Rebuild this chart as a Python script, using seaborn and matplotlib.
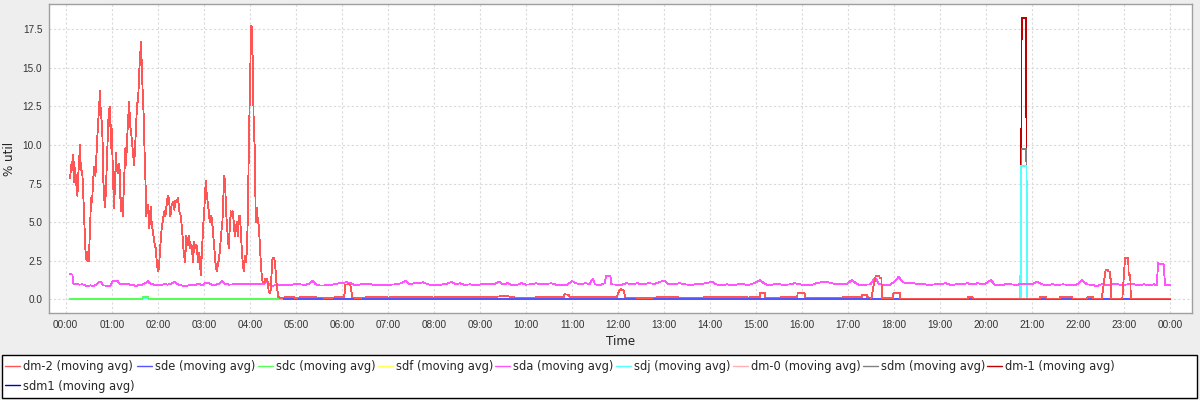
import numpy as np
import pandas as pd
import matplotlib
matplotlib.use("Agg")
import matplotlib.pyplot as plt
import seaborn as sns
from matplotlib.lines import Line2D
from matplotlib.patches import Rectangle
from matplotlib.ticker import FixedLocator, FormatStrFormatter

# legend order (JFreeChart draws series 0 on top)
SERIES = ["dm-2", "sde", "sdc", "sdf", "sda", "sdj", "dm-0", "sdm", "dm-1", "sdm1"]
COLORS = ["#ff5555", "#5555ff", "#55ff55", "#ffff55", "#ff55ff",
          "#55ffff", "#ffafaf", "#808080", "#c00000", "#0000c0"]

TICK_MIN = [0, 60, 120, 180, 240, 300, 360, 420, 480, 540, 600, 660, 720,
            780, 840, 900, 960, 1020, 1080, 1140, 1200, 1260, 1320, 1380, 1440]
TICK_LABELS = ["00:00", "01:00", "02:00", "03:00", "04:00", "05:00", "06:00",
               "07:00", "08:00", "09:00", "10:00", "11:00", "12:00", "13:00",
               "14:00", "15:00", "16:00", "17:00", "18:00", "19:00", "20:00",
               "21:00", "22:00", "23:00", "00:00"]
Y_TICKS = [0.0, 2.5, 5.0, 7.5, 10.0, 12.5, 15.0, 17.5]

# dm-2 : minutes after midnight / % util
DM2_MIN = [5.6, 7.8, 9.1, 10.0, 10.9, 12.2, 13.5, 15.2, 16.5, 18.7, 19.6, 21.3, 22.2, 23.9,
           25.6, 26.5, 27.4, 28.3, 30.0, 31.7, 33.0, 34.3, 36.1, 37.4, 38.7, 39.6, 41.3,
           43.0, 44.8, 45.6, 47.4, 48.3, 49.1, 50.9, 52.2, 53.5, 54.8, 56.1, 57.4, 58.3,
           58.7, 59.6, 60.9, 62.2, 63.0, 64.3, 65.6, 66.5, 67.8, 69.1, 70.4, 71.7, 73.0,
           74.3, 75.2, 76.5, 77.8, 78.7, 80.0, 81.3, 82.6, 83.9, 85.6, 86.9, 89.1, 90.4,
           91.7, 93.0, 94.3, 95.6, 96.5, 98.1, 99.0, 100.3, 101.6, 102.9, 104.2, 105.1,
           106.4, 107.7, 109.0, 110.7, 112.0, 113.8, 115.5, 117.3, 119.0, 120.7, 122.0,
           123.3, 125.1, 126.8, 128.6, 129.9, 131.2, 132.9, 134.6, 136.4, 138.1, 139.9,
           141.6, 142.9, 144.6, 146.4, 148.1, 149.9, 151.6, 153.3, 155.5, 157.3, 159.0,
           160.7, 162.5, 164.2, 166.0, 167.3, 169.0, 170.7, 172.5, 174.2, 176.0, 177.7,
           179.0, 180.7, 182.5, 183.8, 186.0, 187.7, 189.9, 191.6, 193.3, 195.1, 196.8,
           198.1, 199.8, 201.1, 202.9, 204.2, 205.5, 206.8, 208.1, 209.4, 210.7, 212.5,
           213.8, 215.1, 216.4, 217.7, 219.0, 220.3, 221.6, 222.9, 224.2, 225.5, 226.8,
           228.1, 229.4, 230.7, 232.0, 233.3, 234.6, 235.9, 237.2, 238.5, 239.8, 241.1,
           242.0, 242.9, 243.8, 245.1, 246.4, 247.7, 249.0, 250.3, 251.6, 252.9, 254.2,
           255.5, 256.8, 259.0, 260.3, 262.0, 263.3, 264.6, 266.8, 268.1, 269.4, 270.7,
           272.0, 273.3, 274.6, 275.9, 277.2, 279.4,
           285, 292, 300, 310, 330, 345, 355, 363, 364.5, 369, 371, 373.5, 380, 400, 420,
           450, 480, 510, 540, 562, 568, 576, 585, 610, 640, 649, 650, 656, 657, 680, 700,
           718, 721, 723, 727, 729.5, 760, 780, 800, 830, 860, 890, 904.5, 905, 911.5, 912,
           930, 950, 953.5, 954, 963, 963.5, 990, 1010, 1037.5, 1038, 1044, 1044.5, 1050.5,
           1053, 1056, 1060.5, 1061, 1063.3, 1063.8, 1078.3, 1078.8, 1087.5, 1088, 1120,
           1175.5, 1176, 1182, 1182.5, 1269.5, 1270, 1278, 1278.5, 1295.5, 1296, 1312,
           1312.5, 1331.5, 1332, 1339, 1339.5, 1350.4, 1355.5, 1358, 1359, 1361, 1361.4,
           1362, 1362.6, 1377.3, 1380.8, 1385, 1385.5, 1387.7, 1388.2, 1440]
DM2_VAL = [7.86, 8.9, 8.4, 9.37, 7.6, 8.5, 7.6, 6.7, 8.2, 10.0, 8.4, 8.3, 7.7, 5.4,
           3.3, 2.6, 3.1, 2.5, 2.5, 4.6, 6.6, 6.3, 8.0, 8.6, 8.0, 8.9, 10.6,
           12.1, 13.5, 12.1, 11.3, 9.65, 7.6, 6.0, 6.8, 8.7, 10.6, 12.2, 12.5, 11.1,
           9.8, 11.3, 9.3, 7.0, 5.9, 7.6, 9.5, 8.5, 8.2, 8.8, 8.3, 5.7, 6.6,
           5.4, 6.6, 8.2, 9.8, 8.7, 10.4, 11.6, 12.8, 11.3, 10.6, 9.9, 8.7, 9.8,
           11.3, 12.7, 12.8, 14.5, 15.4, 16.7, 15.4, 13.4, 11.9, 9.3, 7.2, 5.4,
           6.0, 6.1, 4.6, 6.0, 5.0, 4.3, 3.7, 3.3, 2.2, 1.8, 2.4,
           3.5, 4.6, 5.2, 5.7, 5.4, 6.0, 6.7, 6.5, 5.4, 6.1, 6.3,
           5.8, 6.4, 6.3, 6.6, 5.7, 5.4, 4.6, 3.3, 2.4, 4.1, 3.5,
           4.1, 3.3, 3.5, 2.4, 3.7, 3.3, 3.5, 2.4, 3.0, 1.55, 3.3,
           4.6, 5.9, 7.7, 6.8, 5.9, 5.0, 5.4, 4.6, 3.5, 2.4, 1.8,
           2.2, 2.6, 3.3, 4.4, 5.0, 6.7, 8.0, 7.0, 5.4, 4.4, 3.3,
           4.6, 5.7, 5.4, 5.7, 5.0, 4.1, 4.6, 5.0, 4.1, 5.4, 5.4,
           4.6, 3.3, 2.4, 1.8, 2.8, 2.4, 3.0, 5.0, 9.3, 13.0, 16.2,
           17.75, 17.5, 15.2, 11.1, 9.8, 5.0, 5.9, 5.2, 4.8, 3.7, 2.4,
           1.55, 1.1, 1.1, 1.35, 1.35, 1.1, 0.47, 0.37, 1.55, 2.6, 2.7,
           2.6, 2.0, 1.1, 0.58, 0.15, 0.09,
           0.12, 0.17, 0.1, 0.14, 0.12, 0.1, 0.14, 0.14, 0.95, 0.97, 0.93, 0.12, 0.1, 0.14, 0.12,
           0.14, 0.12, 0.15, 0.13, 0.17, 0.2, 0.2, 0.12, 0.12, 0.14, 0.14, 0.32, 0.3, 0.14, 0.12, 0.15,
           0.12, 0.5, 0.65, 0.6, 0.12, 0.1, 0.14, 0.12, 0.12, 0.14, 0.12, 0.13, 0.39, 0.39, 0.12,
           0.12, 0.14, 0.14, 0.39, 0.39, 0.12, 0.12, 0.12, 0.13, 0.28, 0.28, 0.13, 0.1,
           0.9, 1.53, 1.53, 1.36, 1.36, 0.1, 0.1, 0.39, 0.39, 0.05, 0.05,
           0.05, 0.15, 0.15, 0.05, 0.05, 0.15, 0.15, 0.05, 0.05, 0.15, 0.15,
           0.05, 0.05, 0.15, 0.15, 0.05, 0.05, 1.9, 1.9, 1.8, 1.8, 1.36,
           1.36, 0.05, 0.05, 2.7, 2.7, 1.58, 1.58, 0.05, 0.05]

# sde follows dm-2 during the busy hours, then sits just above zero
SDE_TAIL_MIN = [285, 1440]
SDE_TAIL_VAL = [0.04, 0.04]

# sdm follows dm-2 except for the spike at ~20:46
SDM_SPIKE_MIN = [1245.2, 1245.8, 1252.2, 1252.8]
SDM_SPIKE_VAL = [0.05, 9.72, 9.72, 0.05]

SDC_MIN = [5.6, 100.0, 100.6, 107.4, 108.0, 1440]
SDC_VAL = [0, 0, 0.15, 0.15, 0, 0]

SDJ_MIN = [5.6, 1245.0, 1245.6, 1252.4, 1253.0, 1440]
SDJ_VAL = [0, 0, 8.64, 8.64, 0, 0]

DM0_MIN = [5.6, 1244.3, 1244.8, 1245.3, 1440]
DM0_VAL = [0, 0, 6.1, 0, 0]

DM1_MIN = [5.6, 1245.3, 1246.0, 1252.0, 1252.7, 1440]
DM1_VAL = [0, 0, 18.21, 18.21, 0, 0]

ZERO_MIN = [5.6, 1440]
ZERO_VAL = [0, 0]

SDA_MIN = [5.6, 8.7, 10, 14, 18, 22, 27, 32, 36, 40, 43, 46, 49, 54, 58, 61, 64, 68, 71,
           76, 80, 84, 88, 92, 96, 100, 104, 107, 110, 115, 120, 125, 129, 133, 137, 142,
           145, 149, 155, 160, 165, 170, 174, 178, 182, 186, 190, 195, 200, 204, 208, 213,
           220, 227, 233, 240, 247, 253, 258, 262, 266, 270, 274, 280, 286, 292, 298, 305,
           312, 317, 322, 326, 332, 338, 346, 352, 358, 366, 372, 378, 385, 392, 398, 404,
           410, 417, 424, 431, 437, 443, 448, 454, 460, 466, 472, 479, 486, 492, 498, 503,
           508, 514, 520, 527, 534, 541, 547, 552, 558, 565, 570, 576, 582, 588, 594, 600,
           607, 613, 620, 627, 633, 640, 647, 653, 660, 665, 671, 677, 683, 687, 690, 696,
           700, 703, 704, 710, 711, 717, 724, 731, 738, 745, 752, 760, 768, 775, 781, 786,
           792, 800, 807, 814, 821, 828, 835, 842, 848, 855, 862, 869, 876, 883, 890, 897,
           901, 905, 910, 916, 923, 930, 937, 944, 950, 957, 964, 971, 978, 985, 992, 998,
           1005, 1012, 1018, 1025, 1030, 1036, 1043, 1049, 1055, 1060, 1066, 1073, 1080,
           1086, 1091, 1098, 1105, 1112, 1119, 1126, 1133, 1140, 1147, 1154, 1161, 1168,
           1175, 1182, 1189, 1196, 1202, 1206, 1211, 1218, 1225, 1232, 1239, 1246, 1253,
           1260, 1266, 1272, 1279, 1286, 1293, 1300, 1307, 1314, 1320, 1325, 1331, 1338,
           1344, 1350, 1357, 1364, 1371, 1378, 1385, 1392, 1399, 1406, 1412, 1418, 1422,
           1424, 1431, 1433, 1436, 1440]
SDA_VAL = [1.62, 1.6, 1.0, 1.0, 0.95, 0.97, 0.86, 0.9, 0.86, 0.97, 1.12, 1.1, 0.9, 0.88, 0.86,
           1.19, 1.2, 1.17, 0.97, 1.0, 1.0, 0.95, 0.92, 0.86, 0.95, 0.95, 1.05, 1.17, 1.02,
           0.95, 0.92, 0.92, 1.0, 0.95, 1.0, 1.12, 1.02, 0.92, 0.86, 0.9, 0.92, 0.95, 1.0,
           0.92, 1.06, 1.05, 0.95, 0.92, 1.02, 1.17, 1.0, 0.95, 0.97, 1.0, 0.97, 1.0, 0.97,
           0.97, 1.0, 1.12, 0.95, 0.86, 0.95, 0.95, 0.93, 0.92, 0.97, 0.97, 0.93, 1.0, 1.19,
           0.97, 0.89, 0.9, 0.93, 1.0, 1.04, 1.1, 1.04, 0.9, 0.97, 1.02, 0.97, 0.9, 0.93,
           0.9, 0.95, 0.97, 1.04, 1.19, 0.97, 1.04, 1.06, 1.1, 0.97, 0.9, 0.93, 0.97, 1.02,
           1.14, 0.97, 1.04, 0.93, 0.97, 0.9, 0.97, 1.02, 0.97, 0.97, 1.14, 0.97, 1.04, 0.9,
           0.93, 1.04, 0.95, 0.97, 1.04, 0.97, 1.0, 1.04, 0.93, 0.9, 0.92, 1.19, 1.04, 0.97,
           1.04, 1.0, 1.32, 0.97, 0.9, 1.0, 1.04, 1.53, 1.53, 0.97, 0.95, 0.93, 1.04, 0.97,
           1.04, 0.97, 1.04, 1.0, 1.14, 1.19, 0.97, 0.97, 1.04, 0.97, 0.93, 0.97, 1.0, 1.04,
           1.14, 0.97, 0.9, 0.97, 0.9, 0.97, 0.97, 0.93, 1.04, 1.14, 1.25, 1.04, 0.9, 0.97,
           0.97, 0.93, 0.97, 1.04, 0.97, 0.9, 0.9, 1.04, 1.1, 1.14, 1.04, 0.97, 0.97, 1.0,
           1.25, 1.04, 0.9, 0.95, 0.97, 1.4, 1.0, 0.93, 0.9, 1.14, 1.47, 1.1, 1.04, 1.04,
           0.97, 0.97, 0.93, 0.97, 0.97, 1.04, 0.93, 0.97, 0.97, 1.04, 0.97, 1.04, 0.97,
           1.1, 1.25, 0.93, 0.9, 0.97, 0.97, 0.93, 1.0, 0.97, 1.0, 1.14, 0.97, 0.93, 0.97,
           0.93, 0.97, 0.93, 0.9, 1.0, 1.25, 0.97, 0.93, 0.86, 0.97, 0.93, 0.97, 0.97, 0.93,
           0.97, 0.97, 0.93, 0.97, 0.9, 0.97, 0.93, 2.33, 2.27, 0.93, 0.9, 0.95]


def merge(t_a, v_a, t_b, v_b):
    t = np.concatenate([t_a, t_b])
    v = np.concatenate([v_a, v_b])
    order = np.argsort(t, kind="stable")
    return t[order], v[order]


def main():
    dm2_t = np.array(DM2_MIN, dtype=float)
    dm2_v = np.array(DM2_VAL, dtype=float)
    busy = dm2_t <= 280
    sde_t, sde_v = merge(dm2_t[busy], dm2_v[busy], np.array(SDE_TAIL_MIN, float), np.array(SDE_TAIL_VAL, float))
    sdm_t, sdm_v = merge(dm2_t, dm2_v, np.array(SDM_SPIKE_MIN, float), np.array(SDM_SPIKE_VAL, float))

    data = {
        "dm-2": (dm2_t, dm2_v),
        "sde": (sde_t, sde_v),
        "sdc": (SDC_MIN, SDC_VAL),
        "sdf": (ZERO_MIN, ZERO_VAL),
        "sda": (SDA_MIN, SDA_VAL),
        "sdj": (SDJ_MIN, SDJ_VAL),
        "dm-0": (DM0_MIN, DM0_VAL),
        "sdm": (sdm_t, sdm_v),
        "dm-1": (DM1_MIN, DM1_VAL),
        "sdm1": (ZERO_MIN, ZERO_VAL),
    }

    sns.set_style("white")
    plt.rcParams["font.family"] = ["DejaVu Sans"]

    fig = plt.figure(figsize=(12, 4), dpi=100, facecolor="#eeeeee")
    ax = fig.add_axes([0.0411, 0.2168, 0.9525, 0.7725])
    ax.set_facecolor("white")

    # draw in reverse so series 0 ends up on top; crisp 1px lines like the java renderer
    for i in range(len(SERIES) - 1, -1, -1):
        name = SERIES[i]
        t, v = data[name]
        df = pd.DataFrame({"minute": t, "util": v})
        sns.lineplot(data=df, x="minute", y="util", color=COLORS[i], lw=0.6,
                     antialiased=False, estimator=None, sort=False, legend=False,
                     ax=ax, zorder=20 - i)

    ax.set_xlim(-21.4, 1468.5)
    ax.set_ylim(-0.907, 19.12)
    ax.xaxis.set_major_locator(FixedLocator(TICK_MIN))
    ax.set_xticklabels(TICK_LABELS)
    ax.yaxis.set_major_locator(FixedLocator(Y_TICKS))
    ax.yaxis.set_major_formatter(FormatStrFormatter("%.1f"))

    ax.set_axisbelow(True)
    ax.grid(True, color="#dadada", linestyle=(0, (2, 2)), lw=0.8)
    for sp in ax.spines.values():
        sp.set_color("#a0a0a0")
        sp.set_linewidth(1)
    ax.tick_params(direction="out", length=3, width=0.8, color="#a0a0a0", pad=2,
                   labelsize=7.2, labelcolor="#333333")
    for lab in ax.get_xticklabels() + ax.get_yticklabels():
        lab.set_family("Liberation Sans")

    ax.set_xlabel("Time", fontsize=8.6, color="#222222")
    ax.set_ylabel("% util", fontsize=8.6, color="#222222")
    ax.xaxis.set_label_coords(0.5, -0.07)
    ax.yaxis.set_label_coords(-0.029, 0.5)

    # legend box
    fig.patches.append(Rectangle((0.0017, 0.0043), 0.9958, 0.108, transform=fig.transFigure,
                                 facecolor="white", edgecolor="black", lw=1, zorder=0))
    handles = {name: Line2D([], [], color=c, lw=1) for name, c in zip(SERIES, COLORS)}
    order = ["dm-2", "sdm1", "sde", "sdc", "sdf", "sda", "sdj", "dm-0", "sdm", "dm-1"]
    fig.legend([handles[n] for n in order], [n + " (moving avg)" for n in order],
               ncol=9, loc="upper left", bbox_to_anchor=(0.0042, 0.101), frameon=False,
               borderpad=0, borderaxespad=0, fontsize=8.3, handlelength=1.3,
               handletextpad=0.26, columnspacing=0.2, labelspacing=0.6)

    fig.savefig("out.png", dpi=100, facecolor=fig.get_facecolor())


if __name__ == "__main__":
    main()
